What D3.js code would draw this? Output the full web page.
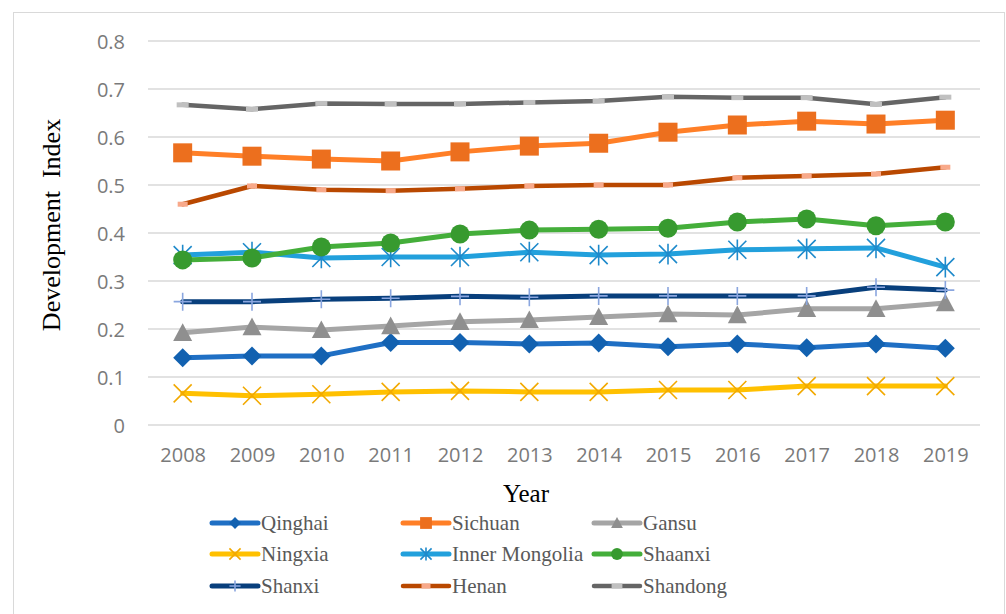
<!DOCTYPE html>
<html><head><meta charset="utf-8">
<script src="https://cdn.jsdelivr.net/npm/d3@7"></script>
<style>html,body{margin:0;padding:0;background:#fff;}svg{display:block;}</style>
</head><body>
<svg id="chart" width="1006" height="614"></svg>
<script>
const years = ["2008","2009","2010","2011","2012","2013","2014","2015","2016","2017","2018","2019"];
const yTicks = [0, 0.1, 0.2, 0.3, 0.4, 0.5, 0.6, 0.7, 0.8];
const seriesNames = ["Qinghai","Sichuan","Gansu","Ningxia","Inner Mongolia","Shaanxi","Shanxi","Henan","Shandong"];
const qinghai  = [0.140,0.144,0.144,0.172,0.172,0.169,0.171,0.163,0.169,0.161,0.169,0.160];
const sichuan  = [0.567,0.560,0.554,0.550,0.569,0.581,0.587,0.610,0.625,0.633,0.627,0.635];
const gansu    = [0.192,0.204,0.198,0.206,0.215,0.219,0.225,0.231,0.229,0.242,0.242,0.254];
const ningxia  = [0.066,0.061,0.064,0.069,0.071,0.069,0.069,0.073,0.073,0.081,0.081,0.081];
const innerMongolia = [0.354,0.360,0.348,0.350,0.350,0.360,0.354,0.356,0.365,0.367,0.369,0.329];
const shaanxi  = [0.344,0.348,0.371,0.379,0.398,0.406,0.408,0.410,0.423,0.429,0.415,0.423];
const shanxi   = [0.257,0.257,0.262,0.264,0.268,0.266,0.269,0.269,0.269,0.269,0.287,0.281];
const henan    = [0.460,0.498,0.490,0.488,0.492,0.498,0.500,0.500,0.515,0.519,0.523,0.537];
const shandong = [0.667,0.658,0.670,0.669,0.669,0.672,0.675,0.684,0.682,0.682,0.668,0.683];
const seriesValues = [qinghai,sichuan,gansu,ningxia,innerMongolia,shaanxi,shanxi,henan,shandong];

const styles = [
  {line:"#1f6fc4", mk:"diamond", fill:"#1261b0", w:5},
  {line:"#ff7f27", mk:"square", fill:"#ec6f1e", w:5},
  {line:"#a5a5a5", mk:"triangle", fill:"#8f8f8f", w:5},
  {line:"#ffc000", mk:"x", stroke:"#f2a900", w:5},
  {line:"#22a0dc", mk:"asterisk", stroke:"#1e8acb", w:5},
  {line:"#44ae3a", mk:"circle", fill:"#379a2f", w:5},
  {line:"#083f7c", mk:"plus", stroke:"#8aa6df", w:5},
  {line:"#b94800", mk:"bar", fill:"#f8a98a", w:4.5, bw:10},
  {line:"#656565", mk:"bar", fill:"#c0c0c0", w:4.5, bw:12}
];

const svg = d3.select("#chart");
// outer frame
svg.append("rect").attr("x",13.5).attr("y",12.5).attr("width",991).attr("height",610)
  .attr("fill","none").attr("stroke","#d9d9d9").attr("stroke-width",1);

const x = d3.scalePoint().domain(years).range([148,980]).padding(0.5);
const y = d3.scaleLinear().domain([0,0.8]).range([425,41]);

// gridlines
svg.append("g").selectAll("line").data(yTicks).join("line")
  .attr("x1",148).attr("x2",980).attr("y1",d=>y(d)).attr("y2",d=>y(d))
  .attr("stroke","#d9d9d9").attr("stroke-width",1.5);

// y axis labels
const yAxis = d3.axisLeft(y).tickValues(yTicks).tickSize(0).tickPadding(0)
  .tickFormat(d=> d===0 ? "0" : d3.format(".1f")(d));
const gy = svg.append("g").attr("transform","translate(125,0)").call(yAxis);
gy.select(".domain").remove();
gy.selectAll("text").attr("font-family","'Open Sans', sans-serif").attr("font-size",20)
  .attr("fill","#7a7a7a").attr("dy","0.35em");

// x axis labels
const xAxis = d3.axisBottom(x).tickSize(0).tickPadding(0);
const gx = svg.append("g").attr("transform","translate(0,447)").call(xAxis);
gx.select(".domain").remove();
gx.selectAll("text").attr("font-family","'Open Sans', sans-serif").attr("font-size",20)
  .attr("fill","#7a7a7a").attr("dy","0.75em");

// axis titles
svg.append("text").attr("x",526).attr("y",502).attr("text-anchor","middle")
  .attr("font-family","'Liberation Serif', serif").attr("font-size",25).attr("fill","#000")
  .text("Year");
svg.append("text").attr("transform","translate(60,225) rotate(-90)").attr("text-anchor","middle")
  .attr("font-family","'Liberation Serif', serif").attr("font-size",26).attr("fill","#000")
  .attr("xml:space","preserve").style("white-space","pre")
  .text("Development  Index");

function drawMarker(g, st, cx, cy, s) {
  // s = scale factor
  const h = 9.5*s;
  if (st.mk==="diamond") {
    g.append("path").attr("d",`M${cx},${cy-h}L${cx+h},${cy}L${cx},${cy+h}L${cx-h},${cy}Z`).attr("fill",st.fill);
  } else if (st.mk==="square") {
    g.append("rect").attr("x",cx-h).attr("y",cy-h).attr("width",2*h).attr("height",2*h).attr("fill",st.fill);
  } else if (st.mk==="triangle") {
    g.append("path").attr("d",`M${cx},${cy-h}L${cx+h},${cy+h*0.85}L${cx-h},${cy+h*0.85}Z`).attr("fill",st.fill);
  } else if (st.mk==="circle") {
    g.append("circle").attr("cx",cx).attr("cy",cy).attr("r",h).attr("fill",st.fill);
  } else if (st.mk==="x") {
    const k=9*s;
    g.append("path").attr("d",`M${cx-k},${cy-k}L${cx+k},${cy+k}M${cx-k},${cy+k}L${cx+k},${cy-k}`)
      .attr("stroke",st.stroke).attr("stroke-width",1.6).attr("fill","none");
  } else if (st.mk==="asterisk") {
    const k=9*s;
    g.append("path").attr("d",`M${cx-k},${cy-k}L${cx+k},${cy+k}M${cx-k},${cy+k}L${cx+k},${cy-k}M${cx},${cy-k*1.15}L${cx},${cy+k*1.15}`)
      .attr("stroke",st.stroke).attr("stroke-width",1.6).attr("fill","none");
  } else if (st.mk==="plus") {
    const k=9*s;
    g.append("path").attr("d",`M${cx-k},${cy}L${cx+k},${cy}M${cx},${cy-k}L${cx},${cy+k}`)
      .attr("stroke",st.stroke).attr("stroke-width",1.6).attr("fill","none");
  } else if (st.mk==="bar") {
    const bw = st.bw*(s<1?0.9:1);
    g.append("rect").attr("x",cx-bw/2).attr("y",cy-2.5).attr("width",bw).attr("height",5).attr("fill",st.fill);
  }
}

const line = d3.line().x((d,i)=>x(years[i])).y(d=>y(d));
seriesValues.forEach((vals,si)=>{
  const st = styles[si];
  const g = svg.append("g");
  g.append("path").attr("d",line(vals)).attr("fill","none").attr("stroke",st.line)
    .attr("stroke-width",st.w).attr("stroke-linejoin","round").attr("stroke-linecap","round");
  vals.forEach((v,i)=>drawMarker(g, st, x(years[i]), y(v), 1));
});

// legend
const colX = [212, 403, 594];
const rowY = [523, 554, 586];
seriesNames.forEach((name,i)=>{
  const st = styles[i];
  const lx = colX[i%3], ly = rowY[Math.floor(i/3)];
  const g = svg.append("g");
  g.append("line").attr("x1",lx).attr("x2",lx+46).attr("y1",ly).attr("y2",ly)
    .attr("stroke",st.line).attr("stroke-width",st.w).attr("stroke-linecap","round");
  drawMarker(g, st, lx+23, ly, 0.62);
  g.append("text").attr("x",lx+49).attr("y",ly).attr("dy","0.35em")
    .attr("font-family","'Liberation Serif', serif").attr("font-size",21).attr("fill","#595959")
    .text(name);
});
</script>
</body></html>
